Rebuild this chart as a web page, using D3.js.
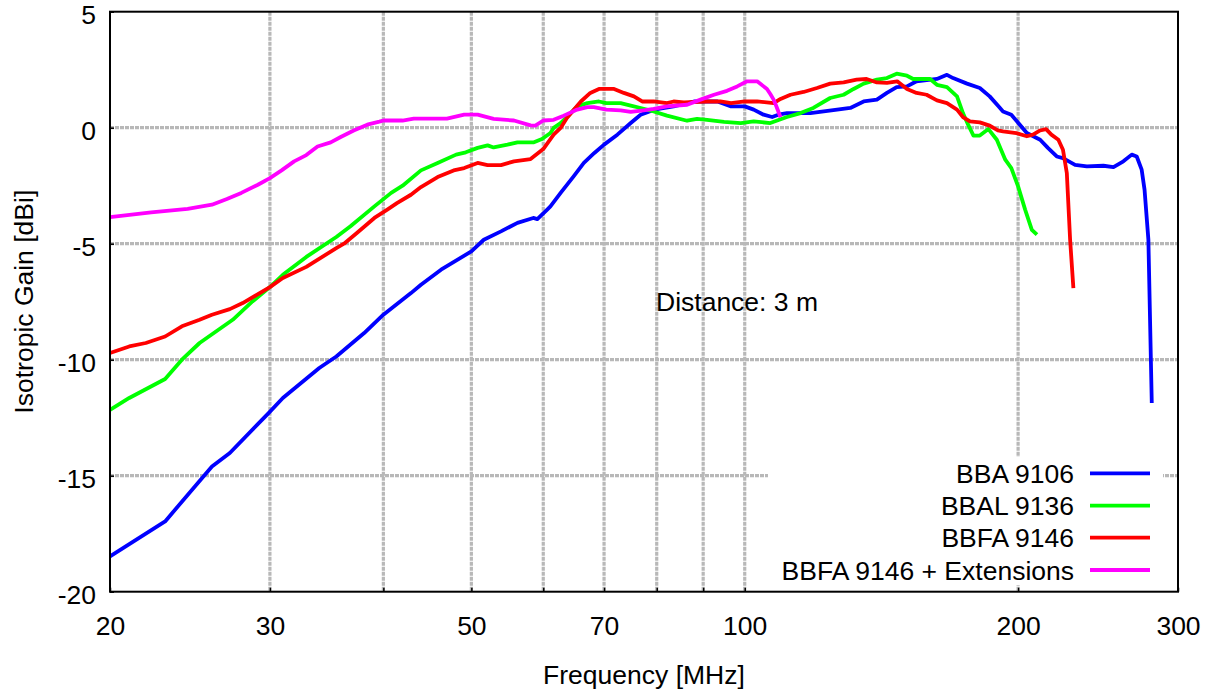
<!DOCTYPE html>
<html><head><meta charset="utf-8">
<script src="https://cdn.jsdelivr.net/npm/d3@7"></script>
<style>
body{margin:0;background:#fff}
svg{display:block}
text{font-family:"Liberation Sans",Arial,Helvetica,sans-serif;fill:#000}
</style>
</head><body>
<svg id="chart" width="1208" height="690"></svg>
<script>
// ---- data ----
const xTickValues = [20, 30, 50, 70, 100, 200, 300];
const xGridValues = [30, 40, 50, 60, 70, 80, 90, 100, 200];
const yTickValues = [5, 0, -5, -10, -15, -20];
const yGridValues = [0, -5, -10, -15];
const seriesNames = ["BBA 9106", "BBAL 9136", "BBFA 9146", "BBFA 9146 + Extensions"];
const seriesColors = ["#0000ff", "#00ff00", "#ff0000", "#ff00ff"];
const annotationText = "Distance: 3 m";

const freqBBA9106 = [20,23.0,25.9,27.1,29.9,31.0,34.0,35.5,38.1,40.0,42.9,44.0,46.3,50.0,51.6,53.9,56.2,58.5,59.1,60.6,61.1,62.7,64.8,66.5,68.3,70.0,72.4,74.9,76.8,79.5,83.5,87.9,93.3,96.6,100,102.3,104.9,107.2,108.9,111.3,118.1,126.4,130.7,135.2,139.8,143.4,147.0,150.9,154.6,162.8,167.0,169.6,175.7,181.5,186.1,190.3,192.5,196.6,204.5,211.5,215.7,220.6,224.1,231.1,238.1,248.3,254.7,261.2,266.8,270.2,273.6,275.6,278.3,280.7];
const gainBBA9106 = [-18.48,-16.97,-14.6,-14.02,-12.3,-11.65,-10.36,-9.86,-8.85,-8.06,-7.13,-6.77,-6.12,-5.33,-4.83,-4.47,-4.1,-3.89,-3.94,-3.53,-3.39,-2.81,-2.1,-1.52,-1.09,-0.73,-0.3,0.2,0.56,0.78,0.92,1.13,1.13,0.92,0.92,0.78,0.56,0.46,0.56,0.63,0.63,0.78,0.85,1.13,1.21,1.5,1.75,1.78,2.0,2.1,2.28,2.14,1.9,1.71,1.35,0.92,0.7,0.56,-0.23,-0.52,-0.87,-1.24,-1.31,-1.6,-1.67,-1.64,-1.7,-1.45,-1.16,-1.24,-1.81,-2.67,-4.83,-11.87];

const freqBBAL9136 = [20,21.0,23.0,24.0,25.1,27.3,28.7,30.0,31.0,32.9,35.5,36.8,39.1,40.8,42.0,44.0,45.9,48.1,49.3,50.8,52.1,52.9,54.8,56.2,58.6,59.8,61.1,61.6,62.7,63.8,65.4,67.1,69.1,70.4,73.0,74.9,76.8,79.4,82.1,86.4,88.6,90.9,94.9,99.0,102.3,106.7,111.3,115.2,119.0,124.2,128.5,131.8,135.2,139.8,143.4,147.0,150.9,153.3,160.0,162.8,167.0,171.3,173.9,176.2,178.6,181.5,185.5,189.5,193.6,196.6,200,203.6,207.1,209.8];
const gainBBAL9136 = [-12.16,-11.65,-10.83,-10.0,-9.28,-8.28,-7.49,-6.87,-6.34,-5.57,-4.71,-4.25,-3.39,-2.81,-2.5,-1.84,-1.52,-1.16,-1.06,-0.87,-0.76,-0.85,-0.73,-0.63,-0.63,-0.49,-0.23,-0.01,0.2,0.49,0.92,1.06,1.13,1.06,1.06,0.95,0.85,0.7,0.52,0.3,0.38,0.34,0.25,0.2,0.27,0.2,0.46,0.63,0.85,1.28,1.42,1.67,1.9,2.07,2.14,2.33,2.24,2.1,2.1,1.85,1.75,1.35,0.63,0.13,-0.34,-0.34,-0.06,-0.52,-1.38,-1.74,-2.53,-3.53,-4.4,-4.61];

const freqBBFA9146 = [20,21.0,21.9,23.0,24.0,25.1,25.9,27.1,28.0,30.0,31.0,32.9,35.5,36.2,37.4,39.1,40.4,41.4,42.9,44.0,45.9,47.8,49.1,50.8,52.1,53.9,55.7,58.1,60.0,61.6,62.7,63.7,66.0,67.6,69.1,71.8,73.6,75.5,77.1,79.4,82.1,83.5,85.7,90.9,94.0,96.6,100,103.2,107.6,109.5,112.3,116.1,120.1,124.2,128.5,132.8,136.2,139.8,143.4,147.2,150.9,154.6,158.6,162.8,167.0,171.3,173.9,177.0,181.5,186.1,190.0,192.5,199.1,204.5,207.7,211.5,214.7,217.6,221.5,224.1,226.3,228.2,230.1];
const gainBBFA9146 = [-9.71,-9.43,-9.28,-9.0,-8.56,-8.28,-8.06,-7.82,-7.56,-6.87,-6.48,-6.0,-5.19,-5.0,-4.54,-3.89,-3.53,-3.25,-2.89,-2.56,-2.13,-1.84,-1.74,-1.52,-1.61,-1.61,-1.45,-1.35,-0.92,-0.3,-0.01,0.42,1.13,1.5,1.67,1.67,1.5,1.35,1.13,1.13,1.06,1.13,1.09,1.13,1.13,1.06,1.13,1.13,1.06,1.24,1.42,1.54,1.71,1.9,1.95,2.07,2.1,1.95,1.93,2.0,1.67,1.5,1.42,1.18,1.06,0.78,0.46,0.27,0.23,0.09,-0.12,-0.16,-0.23,-0.37,-0.3,-0.12,-0.06,-0.3,-0.52,-0.95,-1.95,-4.83,-6.91];

const freqBBFA9146Ext = [20,22.2,24.35,25.9,26.9,27.9,29.1,30.0,30.9,31.9,32.9,33.85,35.0,35.9,37.1,38.4,39.6,40.0,42.0,43.2,47.0,49.1,50.8,52.9,55.7,58.1,58.8,60.0,61.6,63.2,65.4,67.1,68.2,70.4,73.0,74.9,77.4,79.4,82.1,86.4,89.4,92.5,95.6,98.1,100.6,103.2,105.8,106.7,107.6,108.4,109.5];
const gainBBFA9146Ext = [-3.85,-3.65,-3.5,-3.32,-3.07,-2.81,-2.46,-2.17,-1.84,-1.45,-1.18,-0.81,-0.63,-0.4,-0.12,0.13,0.26,0.31,0.31,0.39,0.39,0.56,0.56,0.38,0.31,0.1,0.09,0.31,0.34,0.52,0.78,0.89,0.89,0.78,0.75,0.68,0.75,0.81,0.92,0.99,1.21,1.42,1.59,1.78,2.0,2.0,1.67,1.45,1.21,0.9,0.45];

const seriesFreqs = [freqBBA9106, freqBBAL9136, freqBBFA9146, freqBBFA9146Ext];
const seriesGains = [gainBBA9106, gainBBAL9136, gainBBFA9146, gainBBFA9146Ext];

// ---- layout ----
const plotLeft = 110, plotRight = 1178, plotTop = 11.7, plotBottom = 591.7;
const FONT = 26.5;
const svg = d3.select("#chart");

const x = d3.scaleLog().domain([20, 300]).range([plotLeft, plotRight]);
const y = d3.scaleLinear().domain([-20, 5]).range([plotBottom, plotTop]);

// grid
const grid = svg.append("g").attr("stroke", "#b8b8b8").attr("stroke-width", 3.2).attr("stroke-dasharray", "4,1");
grid.selectAll("line.v").data(xGridValues).enter().append("line")
  .attr("x1", d => x(d)).attr("x2", d => x(d)).attr("y1", plotTop).attr("y2", plotBottom);
grid.selectAll("line.h").data(yGridValues).enter().append("line")
  .attr("x1", plotLeft).attr("x2", plotRight).attr("y1", d => y(d)).attr("y2", d => y(d));

// legend background (covers grid)
svg.append("rect").attr("x", 768).attr("y", 457).attr("width", 395).attr("height", 128).attr("fill", "#fff");

// axes via d3
const xAxis = d3.axisBottom(x).tickValues(xGridValues.concat([20, 300])).tickSize(-4).tickFormat(d => xTickValues.includes(d) ? d : "");
const gx = svg.append("g").attr("transform", `translate(0,${plotBottom})`).call(xAxis);
gx.select(".domain").remove();
gx.selectAll("line").attr("stroke", "#000").attr("stroke-width", 1.5);
gx.selectAll("text").attr("font-size", FONT).attr("dy", 0).attr("y", 43.5).style("font-family", '"Liberation Sans",Arial,sans-serif');

const yAxis = d3.axisLeft(y).tickValues(yTickValues).tickSize(-4).tickFormat(d => d);
const gy = svg.append("g").attr("transform", `translate(${plotLeft},0)`).call(yAxis);
gy.select(".domain").remove();
gy.selectAll("line").attr("stroke", "#000").attr("stroke-width", 1.5);
gy.selectAll("text").attr("font-size", FONT).attr("x", -14).attr("dy", "0.43em").style("font-family", '"Liberation Sans",Arial,sans-serif');

// series
const line = d3.line().x(d => x(d[0])).y(d => y(d[1]));
seriesNames.forEach((name, i) => {
  const pts = d3.zip(seriesFreqs[i], seriesGains[i]);
  svg.append("path").datum(pts).attr("d", line)
    .attr("fill", "none").attr("stroke", seriesColors[i])
    .attr("stroke-width", 3.8).attr("stroke-linejoin", "round");
});

// frame
svg.append("rect").attr("x", plotLeft).attr("y", plotTop).attr("width", plotRight - plotLeft).attr("height", plotBottom - plotTop)
  .attr("fill", "none").attr("stroke", "#000").attr("stroke-width", 2);

// legend
const legendY = [473.3, 505.7, 537.7, 570];
seriesNames.forEach((name, i) => {
  svg.append("text").attr("x", 1074).attr("y", legendY[i]).attr("dy", "0.36em")
    .attr("text-anchor", "end").attr("font-size", FONT).text(name);
  svg.append("line").attr("x1", 1090).attr("x2", 1150).attr("y1", legendY[i]).attr("y2", legendY[i])
    .attr("stroke", seriesColors[i]).attr("stroke-width", 3.8);
});

// annotation
svg.append("text").attr("x", 656).attr("y", 311).attr("font-size", FONT).text(annotationText);

// axis titles
svg.append("text").attr("x", (plotLeft + plotRight) / 2).attr("y", 684).attr("text-anchor", "middle")
  .attr("font-size", FONT).text("Frequency [MHz]");
svg.append("text").attr("transform", `translate(33,${(plotTop + plotBottom) / 2}) rotate(-90)`)
  .attr("text-anchor", "middle").attr("font-size", FONT).text("Isotropic Gain [dBi]");
</script>
</body></html>
